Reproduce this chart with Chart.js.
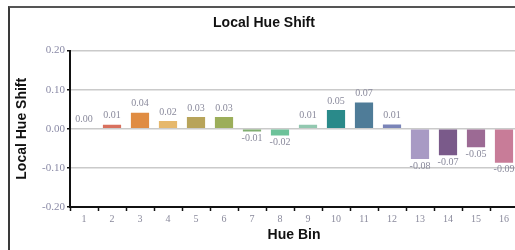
<!DOCTYPE html>
<html>
<head>
<meta charset="utf-8">
<script src="https://cdn.jsdelivr.net/npm/chart.js@4"></script>
<style>
html, body { margin: 0; padding: 0; overflow: hidden; background: #fff; width: 515px; height: 250px; }
#frame { position: absolute; left: 8px; top: 6px; border-left: 2px solid #3a3a3a; border-top: 2px solid #555; width: 520px; height: 250px; }
canvas { display: block; }
</style>
</head>
<body>
<div id="frame"><canvas id="c" width="514" height="244" style="width:514px;height:244px"></canvas></div>
<script>
const categories = ["1","2","3","4","5","6","7","8","9","10","11","12","13","14","15","16"];
const hueShift = [0.000, 0.010, 0.041, 0.020, 0.030, 0.030, -0.007, -0.017, 0.010, 0.048, 0.067, 0.011, -0.077, -0.068, -0.047, -0.087];
const shownLabels = ["0.00","0.01","0.04","0.02","0.03","0.03","-0.01","-0.02","0.01","0.05","0.07","0.01","-0.08","-0.07","-0.05","-0.09"];
const barColors = ["#d86a5c","#d8705e","#e08c42","#e6b86c","#b8a45a","#9cae5a","#80ae70","#6cc29a","#92c8b0","#2a8a8a","#4f7c98","#7a84b8","#a89ac4","#7a5a8a","#9c6a94","#c87c98"];
const yTicks = [-0.2, -0.1, 0, 0.1, 0.2];

const labelPlugin = {
  id: 'barLabels',
  afterDatasetsDraw(chart) {
    const ctx = chart.ctx;
    const meta = chart.getDatasetMeta(0);
    ctx.save();
    ctx.font = '10px "Liberation Serif", serif';
    ctx.fillStyle = '#8a8a9c';
    ctx.textAlign = 'center';
    meta.data.forEach((bar, i) => {
      const v = hueShift[i];
      if (v >= 0) {
        ctx.textBaseline = 'bottom';
        ctx.fillText(shownLabels[i], bar.x, bar.y - 4);
      } else {
        ctx.textBaseline = 'top';
        ctx.fillText(shownLabels[i], bar.x, bar.y + 2);
      }
    });
    ctx.restore();
  }
};

new Chart(document.getElementById('c'), {
  type: 'bar',
  data: {
    labels: categories,
    datasets: [{
      data: hueShift,
      backgroundColor: barColors,
      borderWidth: 0,
      barPercentage: 0.65,
      categoryPercentage: 1.0
    }]
  },
  options: {
    responsive: false,
    animation: false,
    devicePixelRatio: 1,
    layout: { padding: { left: 0, right: 6, top: 0, bottom: 0 } },
    plugins: {
      legend: { display: false },
      tooltip: { enabled: false },
      title: {
        display: true,
        text: 'Local Hue Shift',
        color: '#111',
        font: { family: '"Liberation Sans", Arial, sans-serif', size: 14, weight: 'bold' },
        padding: { top: 6.6, bottom: 19.1 }
      }
    },
    scales: {
      x: {
        afterFit(scale) { scale.height = 45; },
        grid: { display: true, drawOnChartArea: false, drawTicks: true, tickLength: 4, tickColor: '#111', tickWidth: 1.5, offset: true },
        border: { display: true, color: '#111', width: 2 },
        ticks: { color: '#8a8a9c', font: { family: '"Liberation Serif", serif', size: 10 }, padding: 2, maxRotation: 0 },
        title: {
          display: true,
          text: 'Hue Bin',
          color: '#111',
          font: { family: '"Liberation Sans", Arial, sans-serif', size: 14, weight: 'bold' },
          padding: { top: 0, bottom: 8.6 }
        }
      },
      y: {
        min: -0.2,
        max: 0.2,
        afterFit(scale) { scale.width = 60; },
        afterBuildTicks(scale) { scale.ticks = yTicks.map(v => ({ value: v })); },
        grid: { color: '#cacaca', lineWidth: 1.5, drawTicks: true, tickLength: 3, tickColor: '#111', tickWidth: 1.5 },
        border: { display: true, color: '#111', width: 2 },
        ticks: {
          color: '#8a8aa6',
          font: { family: '"Liberation Serif", serif', size: 11 },
          padding: 2,
          callback: (v) => (v < 0 ? '-' : '') + Math.abs(v).toFixed(2)
        },
        title: {
          display: true,
          text: 'Local Hue Shift',
          color: '#111',
          font: { family: '"Liberation Sans", Arial, sans-serif', size: 14, weight: 'bold' },
          padding: { top: 4, bottom: 0 }
        }
      }
    }
  },
  plugins: [labelPlugin]
});
</script>
</body>
</html>
